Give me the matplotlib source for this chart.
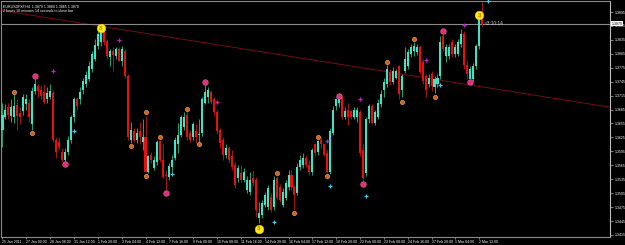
import matplotlib
matplotlib.use('Agg')
import matplotlib.pyplot as plt
import matplotlib.transforms as mtransforms
import numpy as np

plt.rcParams['font.family'] = ['Liberation Sans', 'DejaVu Sans']

# EURUSD H4 candles, bar 0 = 25 Jan 2011 16:00
opens = [1.3642, 1.3670, 1.3690, 1.3672, 1.3670, 1.3694, 1.3677, 1.3681, 1.3698, 1.3700,
         1.3653, 1.3724, 1.3735, 1.3728, 1.3722, 1.3707, 1.3711, 1.3720, 1.3620, 1.3616,
         1.3594, 1.3577, 1.3594, 1.3620, 1.3668, 1.3707, 1.3707, 1.3728, 1.3739, 1.3750,
         1.3772, 1.3793, 1.3821, 1.3830, 1.3862, 1.3832, 1.3798, 1.3811, 1.3800, 1.3815,
         1.3789, 1.3811, 1.3757, 1.3620, 1.3638, 1.3620, 1.3638, 1.3616, 1.3625, 1.3551,
         1.3588, 1.3560, 1.3573, 1.3618, 1.3577, 1.3545, 1.3540, 1.3562, 1.3581, 1.3610,
         1.3631, 1.3648, 1.3674, 1.3635, 1.3625, 1.3638, 1.3631, 1.3635, 1.3700, 1.3711,
         1.3722, 1.3707, 1.3679, 1.3642, 1.3620, 1.3588, 1.3603, 1.3584, 1.3566, 1.3538,
         1.3549, 1.3534, 1.3512, 1.3508, 1.3538, 1.3534, 1.3452, 1.3458, 1.3480, 1.3475,
         1.3497, 1.3475, 1.3538, 1.3519, 1.3480, 1.3495, 1.3519, 1.3545, 1.3519, 1.3506,
         1.3562, 1.3566, 1.3581, 1.3566, 1.3551, 1.3610, 1.3594, 1.3620, 1.3610, 1.3592,
         1.3551, 1.3635, 1.3692, 1.3700, 1.3711, 1.3670, 1.3683, 1.3681, 1.3670, 1.3668,
         1.3679, 1.3599, 1.3549, 1.3664, 1.3692, 1.3657, 1.3670, 1.3696, 1.3728, 1.3739,
         1.3765, 1.3744, 1.3754, 1.3778, 1.3728, 1.3767, 1.3778, 1.3804, 1.3811, 1.3808,
         1.3819, 1.3787, 1.3757, 1.3739, 1.3761, 1.3733, 1.3739, 1.3757, 1.3843, 1.3800,
         1.3800, 1.3830, 1.3804, 1.3804, 1.3826, 1.3847, 1.3782, 1.3750, 1.3750, 1.3778,
         1.3821, 1.3880]
highs = [1.3700, 1.3696, 1.3700, 1.3707, 1.3718, 1.3707, 1.3690, 1.3718, 1.3718, 1.3707,
         1.3733, 1.3750, 1.3741, 1.3737, 1.3739, 1.3733, 1.3741, 1.3728, 1.3625, 1.3625,
         1.3603, 1.3603, 1.3629, 1.3674, 1.3713, 1.3713, 1.3733, 1.3754, 1.3767, 1.3789,
         1.3811, 1.3837, 1.3854, 1.3858, 1.3869, 1.3837, 1.3815, 1.3819, 1.3819, 1.3819,
         1.3821, 1.3815, 1.3761, 1.3659, 1.3646, 1.3646, 1.3659, 1.3664, 1.3672, 1.3588,
         1.3594, 1.3584, 1.3620, 1.3620, 1.3610, 1.3555, 1.3571, 1.3588, 1.3625, 1.3657,
         1.3674, 1.3679, 1.3681, 1.3642, 1.3659, 1.3653, 1.3664, 1.3711, 1.3737, 1.3733,
         1.3728, 1.3713, 1.3685, 1.3646, 1.3625, 1.3610, 1.3607, 1.3599, 1.3573, 1.3566,
         1.3566, 1.3560, 1.3542, 1.3551, 1.3555, 1.3540, 1.3486, 1.3491, 1.3508, 1.3523,
         1.3506, 1.3542, 1.3542, 1.3525, 1.3517, 1.3534, 1.3555, 1.3555, 1.3523, 1.3571,
         1.3588, 1.3592, 1.3588, 1.3577, 1.3603, 1.3614, 1.3620, 1.3625, 1.3614, 1.3599,
         1.3646, 1.3692, 1.3709, 1.3709, 1.3713, 1.3690, 1.3700, 1.3685, 1.3690, 1.3690,
         1.3685, 1.3610, 1.3668, 1.3698, 1.3698, 1.3685, 1.3707, 1.3728, 1.3754, 1.3782,
         1.3772, 1.3776, 1.3772, 1.3782, 1.3761, 1.3819, 1.3815, 1.3826, 1.3830, 1.3826,
         1.3824, 1.3793, 1.3761, 1.3761, 1.3767, 1.3757, 1.3761, 1.3843, 1.3847, 1.3826,
         1.3826, 1.3837, 1.3826, 1.3837, 1.3858, 1.3854, 1.3789, 1.3778, 1.3785, 1.3826,
         1.3891, 1.3916]
lows = [1.3605, 1.3664, 1.3664, 1.3659, 1.3657, 1.3642, 1.3653, 1.3674, 1.3685, 1.3659,
        1.3642, 1.3718, 1.3713, 1.3707, 1.3698, 1.3700, 1.3707, 1.3616, 1.3581, 1.3599,
        1.3573, 1.3571, 1.3588, 1.3614, 1.3659, 1.3685, 1.3698, 1.3718, 1.3733, 1.3746,
        1.3765, 1.3789, 1.3815, 1.3821, 1.3824, 1.3793, 1.3778, 1.3767, 1.3793, 1.3789,
        1.3778, 1.3752, 1.3620, 1.3614, 1.3616, 1.3614, 1.3610, 1.3599, 1.3551, 1.3549,
        1.3571, 1.3555, 1.3566, 1.3573, 1.3538, 1.3512, 1.3534, 1.3551, 1.3577, 1.3592,
        1.3625, 1.3642, 1.3620, 1.3616, 1.3620, 1.3614, 1.3616, 1.3629, 1.3696, 1.3700,
        1.3698, 1.3674, 1.3633, 1.3603, 1.3577, 1.3581, 1.3571, 1.3555, 1.3517, 1.3530,
        1.3530, 1.3530, 1.3506, 1.3501, 1.3521, 1.3454, 1.3441, 1.3452, 1.3475, 1.3469,
        1.3465, 1.3469, 1.3491, 1.3486, 1.3475, 1.3491, 1.3512, 1.3512, 1.3469, 1.3501,
        1.3555, 1.3560, 1.3562, 1.3545, 1.3545, 1.3584, 1.3588, 1.3603, 1.3584, 1.3549,
        1.3547, 1.3631, 1.3685, 1.3690, 1.3664, 1.3664, 1.3651, 1.3664, 1.3664, 1.3659,
        1.3586, 1.3532, 1.3542, 1.3657, 1.3653, 1.3651, 1.3664, 1.3690, 1.3713, 1.3733,
        1.3737, 1.3739, 1.3750, 1.3707, 1.3711, 1.3763, 1.3772, 1.3798, 1.3800, 1.3802,
        1.3761, 1.3739, 1.3711, 1.3733, 1.3724, 1.3720, 1.3733, 1.3750, 1.3811, 1.3787,
        1.3793, 1.3798, 1.3798, 1.3800, 1.3819, 1.3772, 1.3750, 1.3750, 1.3746, 1.3772,
        1.3815, 1.3865]
closes = [1.3674, 1.3685, 1.3674, 1.3690, 1.3692, 1.3672, 1.3668, 1.3711, 1.3707, 1.3670,
          1.3724, 1.3739, 1.3724, 1.3715, 1.3702, 1.3720, 1.3724, 1.3620, 1.3594, 1.3605,
          1.3577, 1.3594, 1.3620, 1.3668, 1.3707, 1.3692, 1.3722, 1.3746, 1.3759, 1.3778,
          1.3804, 1.3824, 1.3847, 1.3852, 1.3830, 1.3800, 1.3811, 1.3802, 1.3815, 1.3789,
          1.3815, 1.3757, 1.3627, 1.3642, 1.3620, 1.3635, 1.3625, 1.3625, 1.3551, 1.3584,
          1.3577, 1.3577, 1.3616, 1.3577, 1.3540, 1.3542, 1.3564, 1.3577, 1.3620, 1.3631,
          1.3668, 1.3670, 1.3625, 1.3620, 1.3653, 1.3627, 1.3633, 1.3707, 1.3722, 1.3728,
          1.3702, 1.3679, 1.3638, 1.3614, 1.3588, 1.3603, 1.3577, 1.3562, 1.3523, 1.3560,
          1.3534, 1.3551, 1.3534, 1.3534, 1.3527, 1.3469, 1.3463, 1.3484, 1.3501, 1.3517,
          1.3469, 1.3534, 1.3495, 1.3491, 1.3508, 1.3527, 1.3545, 1.3519, 1.3501, 1.3562,
          1.3577, 1.3581, 1.3566, 1.3551, 1.3599, 1.3592, 1.3618, 1.3610, 1.3588, 1.3551,
          1.3638, 1.3685, 1.3707, 1.3707, 1.3670, 1.3681, 1.3670, 1.3670, 1.3685, 1.3685,
          1.3592, 1.3538, 1.3664, 1.3692, 1.3657, 1.3679, 1.3700, 1.3718, 1.3744, 1.3772,
          1.3744, 1.3767, 1.3767, 1.3718, 1.3757, 1.3793, 1.3808, 1.3819, 1.3821, 1.3819,
          1.3765, 1.3746, 1.3728, 1.3754, 1.3735, 1.3750, 1.3754, 1.3830, 1.3815, 1.3819,
          1.3819, 1.3804, 1.3819, 1.3830, 1.3847, 1.3782, 1.3761, 1.3772, 1.3778, 1.3821,
          1.3880, 1.3869]

time_labels = ['25 Jan 2011', '27 Jan 00:00', '28 Jan 08:00', '31 Jan 12:00', '1 Feb 20:00',
               '3 Feb 04:00', '4 Feb 12:00', '7 Feb 16:00', '9 Feb 00:00', '10 Feb 08:00',
               '11 Feb 16:00', '14 Feb 20:00', '16 Feb 04:00', '17 Feb 12:00', '18 Feb 20:00',
               '22 Feb 00:00', '23 Feb 08:00', '24 Feb 16:00', '27 Feb 20:00', '1 Mar 04:00',
               '2 Mar 12:00']
price_ticks = [1.3895, 1.3865, 1.3835, 1.3805, 1.3775, 1.3745, 1.3715, 1.3685, 1.3655,
               1.3625, 1.3595, 1.3565, 1.3535, 1.3505, 1.3475, 1.3445, 1.3415]
bid = 1.3870

# indicator marks (bar index, price)
yellow_bars = [33, 86, 160]
yellow_prices = [1.3860, 1.3428, 1.3888]
pink_bars = [11, 21, 55, 68, 113, 121, 148, 157]
pink_prices = [1.3757, 1.3568, 1.3506, 1.3744, 1.3715, 1.3525, 1.3854, 1.3744]
orange_bars = [4, 10, 43, 48, 48, 53, 62, 66, 92, 98, 106, 109, 129, 134, 138, 145, 157]
orange_prices = [1.3722, 1.3635, 1.3607, 1.3679, 1.3542, 1.3625, 1.3687, 1.3610, 1.3549,
                 1.3463, 1.3625, 1.3542, 1.3787, 1.3702, 1.3837, 1.3711, 1.3744]
magenta_bars = [17, 39, 72, 109, 120, 142, 155]
magenta_prices = [1.3769, 1.3834, 1.3702, 1.3618, 1.3707, 1.3791, 1.3867]
cyan_bars = [24, 57, 91, 110, 122, 147, 163]
cyan_prices = [1.3638, 1.3547, 1.3443, 1.3521, 1.3499, 1.3737, 1.3919]
trend_bars = [0, 200]
trend_prices = [1.3898, 1.3694]

W, H = 625, 245
fig = plt.figure(figsize=(W / 100, H / 100), dpi=100, facecolor='black')
ax = fig.add_axes([1 / W, 8.3 / H, 609 / W, 235.7 / H])
ax.set_facecolor('black')

x = np.arange(len(opens))
o = np.array(opens)
hi = np.array(highs)
lo = np.array(lows)
c = np.array(closes)
up = c >= o
dn = ~up

ax.vlines(x[up], lo[up], hi[up], color='#2e9a6a', lw=0.75, zorder=2)
ax.vlines(x[dn], lo[dn], hi[dn], color='#9a1515', lw=0.75, zorder=2)
body = np.maximum(np.abs(c - o), 0.00006)
ax.bar(x[up], body[up], bottom=np.minimum(o, c)[up], width=0.68, color='#3fe3c6', lw=0, zorder=3)
ax.bar(x[dn], body[dn], bottom=np.minimum(o, c)[dn], width=0.68, color='#e8100f', lw=0, zorder=3)

# trend line and bid line
ax.axline((trend_bars[0], trend_prices[0]), (trend_bars[1], trend_prices[1]),
          color='#7a1010', lw=0.65, zorder=1)
ax.axhline(bid, color='#8a8a8a', lw=0.8, zorder=1)

# indicator marks
ax.plot(orange_bars, orange_prices, 'o', ms=3.0, mfc='#c8621c', mec='#f09a50', mew=0.5, zorder=5)
ax.plot(pink_bars, pink_prices, 'o', ms=4.0, mfc='#e0307c', mec='#f060a0', mew=0.4, zorder=5)
ax.plot(magenta_bars, magenta_prices, '+', ms=3.0, mec='#c81ec8', mew=0.9, zorder=5)
ax.plot(cyan_bars, cyan_prices, '+', ms=2.8, mec='#46c8e6', mew=0.9, zorder=5, clip_on=False)
ax.plot(yellow_bars, yellow_prices, 'o', ms=6.2, mfc='#ffe81a', mec='#f0c000', mew=0.4, zorder=6)
for b, p in zip(yellow_bars, yellow_prices):
    ax.text(b, p, '3', color='#d06a00', fontsize=4.2, fontweight='bold',
            ha='center', va='center', zorder=7)

ax.set_xlim(-0.5, 203.9)
ax.set_ylim(1.34113, 1.39187)

# price scale on the right
ax.yaxis.tick_right()
ax.set_yticks(price_ticks)
ax.set_yticklabels(['%.4f' % p for p in price_ticks])
ax.tick_params(axis='y', colors='#b0b0b0', labelcolor='white', labelsize=2.5,
               length=2, width=0.5, pad=1.2)
tr = mtransforms.blended_transform_factory(ax.transAxes, ax.transData)
ax.text(1.0025, bid, '1.3870', transform=tr, fontsize=2.5, color='black', va='center',
        ha='left', zorder=8, bbox=dict(boxstyle='square,pad=0.25', fc='white', ec='white', lw=0))

# time scale
ax.set_xticks(np.arange(0, 8 * len(time_labels), 8))
ax.set_xticklabels(time_labels)
for t in ax.get_xticklabels():
    t.set_ha('left')
ax.tick_params(axis='x', colors='#b0b0b0', labelcolor='white', labelsize=2.5,
               length=1.5, width=0.5, pad=1.2)

for s in ax.spines.values():
    s.set_color('#8a8a8a')
    s.set_linewidth(0.8)
ax.spines['right'].set_color('#c0c0c0')

# header and countdown
ax.text(0.003, 0.985, 'EURUSDFXF,H4  1.3879 1.3880 1.3865 1.3870', transform=ax.transAxes,
        color='white', fontsize=2.6, va='top', ha='left')
ax.text(0.003, 0.965, '2 hours 10 minutes 14 seconds to close bar', transform=ax.transAxes,
        color='white', fontsize=2.6, va='top', ha='left')
ax.text(161.8, bid, '<3:10:14', color='#c8c8c8', fontsize=3.4, va='center', ha='left', zorder=8)

fig.savefig('out.png', dpi=100, facecolor='black')
